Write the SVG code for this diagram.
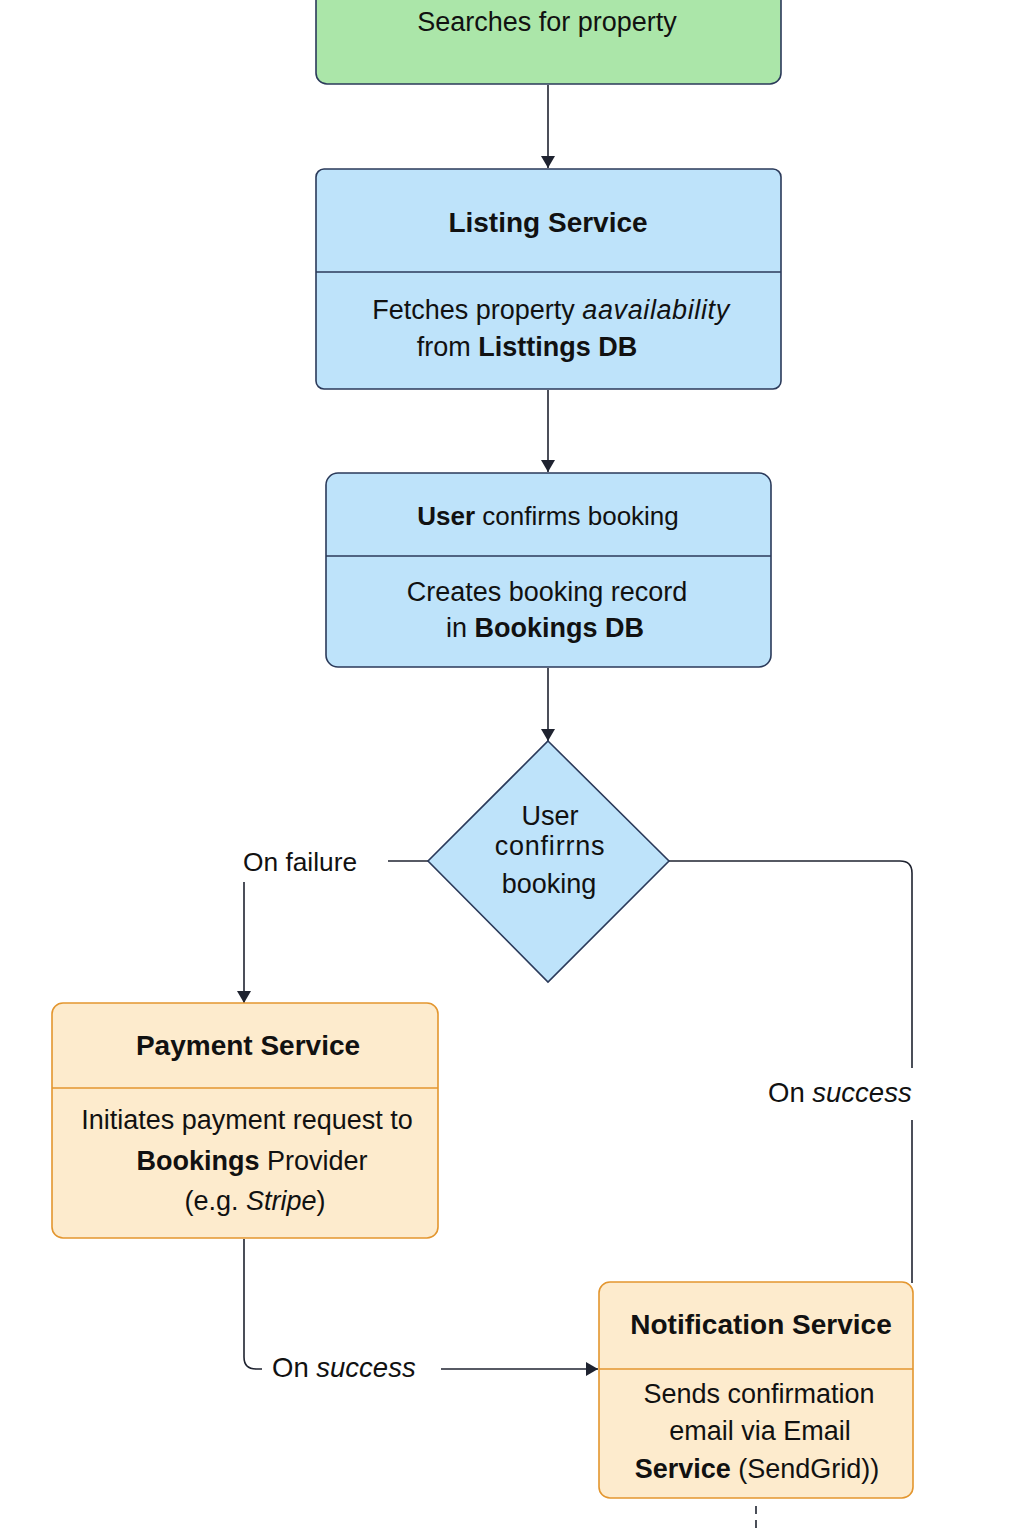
<svg xmlns="http://www.w3.org/2000/svg" width="1024" height="1536" viewBox="0 0 1024 1536">
<defs>
<marker id="arr" viewBox="0 0 12 14" refX="12" refY="7" markerWidth="12" markerHeight="14" markerUnits="userSpaceOnUse" orient="auto">
<path d="M0,0 L12,7 L0,14 Z" fill="#1f2330"/>
</marker>
<style>
text{font-family:"Liberation Sans",Arial,sans-serif;font-size:27px;fill:#111;text-anchor:middle}
.t{font-weight:bold;font-size:28px}
.b{font-weight:bold}
.i{font-style:italic}
.blue{fill:#BEE3FA;stroke:#2b3a5a;stroke-width:1.6}
.green{fill:#ABE6A9;stroke:#2b3a5a;stroke-width:1.6}
.orange{fill:#FDEBCD;stroke:#E3962F;stroke-width:1.6}
.divb{stroke:#2b3a5a;stroke-width:1.6}
.divo{stroke:#E3962F;stroke-width:1.6}
.c{fill:none;stroke:#1f2330;stroke-width:1.6}
.lbl{text-anchor:start;font-size:27.5px}
</style>
</defs>
<rect width="1024" height="1536" fill="#ffffff"/>

<g id="connectors">
<line class="c" x1="548" y1="85" x2="548" y2="168" marker-end="url(#arr)"/>
<line class="c" x1="548" y1="390" x2="548" y2="472" marker-end="url(#arr)"/>
<line class="c" x1="548" y1="668" x2="548" y2="741" marker-end="url(#arr)"/>
<line class="c" x1="428" y1="861" x2="388" y2="861"/>
<line class="c" x1="244" y1="882" x2="244" y2="1003" marker-end="url(#arr)"/>
<path class="c" d="M669,861 H900 Q912,861 912,873 V1068"/>
<line class="c" x1="912" y1="1120" x2="912" y2="1283"/>
<path class="c" d="M244,1239 V1357 Q244,1369 256,1369 H262"/>
<line class="c" x1="441" y1="1369" x2="598" y2="1369" marker-end="url(#arr)"/>
<line class="c" x1="756" y1="1506" x2="756" y2="1532" stroke-dasharray="8,6"/>
<text class="lbl" x="243" y="871" style="font-size:26.3px">On failure</text>
<text class="lbl" x="768" y="1102">On <tspan class="i">success</tspan></text>
<text class="lbl" x="272" y="1377">On <tspan class="i">success</tspan></text>
</g>

<g id="search">
<rect class="green" x="316" y="-12" width="465" height="96" rx="11"/>
<text x="547" y="31">Searches for property</text>
</g>

<g id="listing-service">
<rect class="blue" x="316" y="169" width="465" height="220" rx="8"/>
<line class="divb" x1="316" y1="272" x2="781" y2="272"/>
<text class="t" x="548" y="232">Listing Service</text>
<text x="551" y="319">Fetches property <tspan class="i" style="letter-spacing:0.6px">aavailability</tspan></text>
<text x="527" y="356">from <tspan class="b">Listtings DB</tspan></text>
</g>

<g id="confirm-booking">
<rect class="blue" x="326" y="473" width="445" height="194" rx="12"/>
<line class="divb" x1="326" y1="556" x2="771" y2="556"/>
<text x="548" y="525" style="font-size:26px"><tspan class="b">User</tspan> confirms booking</text>
<text x="547" y="601">Creates booking record</text>
<text x="545" y="637">in <tspan class="b">Bookings DB</tspan></text>
</g>

<g id="decision">
<polygon class="blue" points="548,741 669,861 548,982 428,861"/>
<text x="550" y="825">User</text>
<text x="550" y="855" style="letter-spacing:0.8px">confirrns</text>
<text x="549" y="893">booking</text>
</g>

<g id="payment-service">
<rect class="orange" x="52" y="1003" width="386" height="235" rx="11"/>
<line class="divo" x1="52" y1="1088" x2="438" y2="1088"/>
<text class="t" x="248" y="1055">Payment Service</text>
<text x="247" y="1129">Initiates payment request to</text>
<text x="252" y="1170"><tspan class="b">Bookings</tspan> Provider</text>
<text x="255" y="1210">(e.g. <tspan class="i">Stripe</tspan>)</text>
</g>

<g id="notification-service">
<rect class="orange" x="599" y="1282" width="314" height="216" rx="11"/>
<line class="divo" x1="599" y1="1369" x2="913" y2="1369"/>
<text class="t" x="761" y="1334">Notification Service</text>
<text x="759" y="1403">Sends confirmation</text>
<text x="760" y="1440">email via Email</text>
<text x="757" y="1478"><tspan class="b">Service</tspan> (SendGrid))</text>
</g>
</svg>
